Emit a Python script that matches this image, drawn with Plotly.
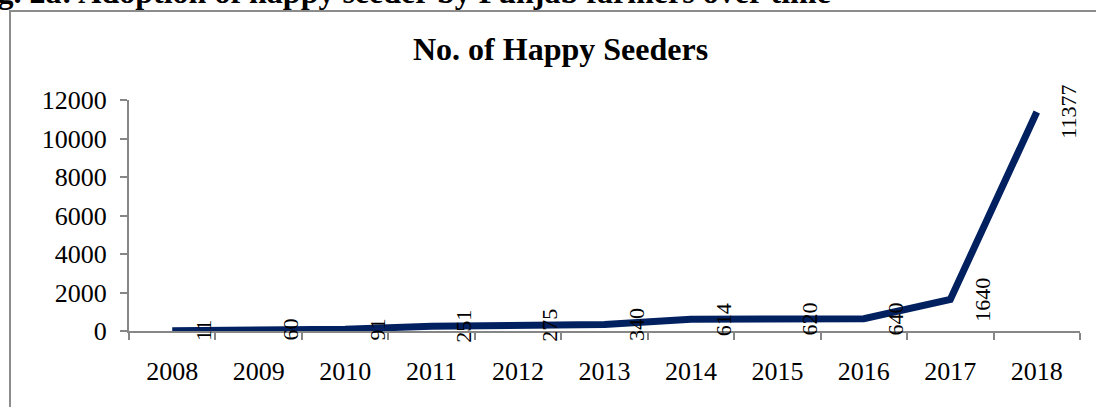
import plotly.graph_objects as go

years = ["2008", "2009", "2010", "2011", "2012", "2013", "2014", "2015", "2016", "2017", "2018"]
seeders = [11, 60, 91, 251, 275, 340, 614, 620, 640, 1640, 11377]
y_ticks = [0, 2000, 4000, 6000, 8000, 10000, 12000]

FONT = "Times New Roman, Liberation Serif, serif"
W, H = 1096, 407
L, R, T, B = 129, 16, 100, 76
pw, ph = W - L - R, H - T - B

def px_x(p):
    return (p - L) / pw

def px_y(p):
    return (H - B - p) / ph

fig = go.Figure()
fig.add_trace(go.Scatter(
    x=years, y=seeders, mode="lines",
    line=dict(color="#002060", width=7),
    hoverinfo="x+y", showlegend=False,
))

annotations = []
for i, v in enumerate(seeders):
    annotations.append(dict(
        x=i, y=v, xref="x", yref="y", text=str(v), showarrow=False,
        textangle=-90, xshift=32, xanchor="center", yanchor="middle",
        font=dict(family=FONT, size=22, color="#000000"),
    ))

# chart title
annotations.append(dict(
    x=px_x(560), y=px_y(49), xref="paper", yref="paper",
    text="<b>No. of Happy Seeders</b>", showarrow=False,
    xanchor="center", yanchor="middle",
    font=dict(family=FONT, size=32, color="#000000"),
))
# cropped figure caption at the very top
annotations.append(dict(
    x=px_x(833), y=px_y(-8), xref="paper", yref="paper",
    text="<b>Fig. 2a: Adoption of happy seeder by Punjab farmers over time</b>",
    showarrow=False, xanchor="right", yanchor="middle",
    font=dict(family=FONT, size=32, color="#000000"),
))

fig.update_layout(
    width=W, height=H,
    margin=dict(l=L, r=R, t=T, b=B, autoexpand=False),
    paper_bgcolor="white", plot_bgcolor="white",
    annotations=annotations,
    shapes=[dict(
        type="rect", xref="paper", yref="paper",
        x0=px_x(10), x1=px_x(1120), y0=px_y(430), y1=px_y(11),
        line=dict(color="#8c8c8c", width=2), fillcolor="rgba(0,0,0,0)",
        layer="below",
    )],
    xaxis=dict(
        type="category", range=[-0.5, 10.5],
        showgrid=False, zeroline=False,
        showline=True, linecolor="#868686", linewidth=2,
        ticks="outside", tickson="boundaries", ticklen=7, tickwidth=2, tickcolor="#868686",
        tickfont=dict(family=FONT, size=26, color="#000000"),
        ticklabelstandoff=16,
    ),
    yaxis=dict(
        range=[0, 12000], tickvals=y_ticks, ticktext=[str(t) for t in y_ticks],
        showgrid=False, zeroline=False,
        showline=True, linecolor="#868686", linewidth=2,
        ticks="outside", ticklen=7, tickwidth=2, tickcolor="#868686",
        tickfont=dict(family=FONT, size=26, color="#000000"),
        ticklabelstandoff=8,
    ),
)

fig.write_html("out.html")
